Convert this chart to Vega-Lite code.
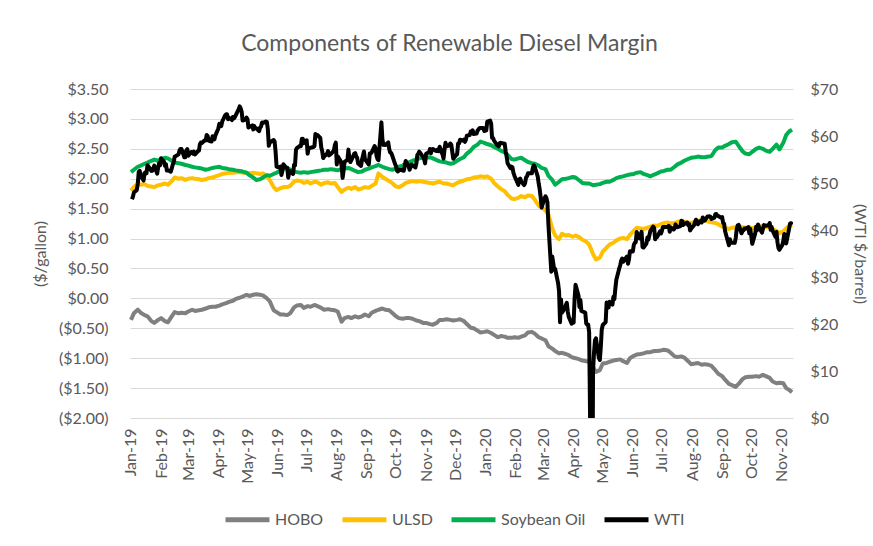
{
  "$schema": "https://vega.github.io/schema/vega-lite/v6.json",
  "width": 663,
  "height": 329,
  "autosize": "none",
  "padding": {"left": 130, "top": 89, "right": 80, "bottom": 128},
  "background": "white",
  "title": {"text": "Components of Renewable Diesel Margin", "baseline": "alphabetic", "offset": 7, "dx": -12},
  "config": {
    "view": {"stroke": null},
    "font": "Lato",
    "title": {"font": "Lato", "fontSize": 23, "fontWeight": "normal", "color": "#595959", "anchor": "middle"},
    "axis": {"labelFont": "Lato", "titleFont": "Lato", "labelColor": "#595959", "titleColor": "#595959", "labelFontSize": 16, "titleFontSize": 16, "titleFontWeight": "normal"}
  },
  "datasets": {
    "left": [
      {"d":"2019-01-01","HOBO":-0.36,"ULSD":1.80,"Soybean Oil":2.11},
      {"d":"2019-01-04","HOBO":-0.25,"ULSD":1.86,"Soybean Oil":2.15},
      {"d":"2019-01-08","HOBO":-0.19,"ULSD":1.92,"Soybean Oil":2.20},
      {"d":"2019-01-11","HOBO":-0.24,"ULSD":1.90,"Soybean Oil":2.22},
      {"d":"2019-01-15","HOBO":-0.28,"ULSD":1.91,"Soybean Oil":2.25},
      {"d":"2019-01-18","HOBO":-0.30,"ULSD":1.88,"Soybean Oil":2.27},
      {"d":"2019-01-22","HOBO":-0.38,"ULSD":1.87,"Soybean Oil":2.30},
      {"d":"2019-01-25","HOBO":-0.41,"ULSD":1.86,"Soybean Oil":2.32},
      {"d":"2019-01-29","HOBO":-0.36,"ULSD":1.89,"Soybean Oil":2.30},
      {"d":"2019-02-01","HOBO":-0.33,"ULSD":1.90,"Soybean Oil":2.33},
      {"d":"2019-02-05","HOBO":-0.38,"ULSD":1.92,"Soybean Oil":2.35},
      {"d":"2019-02-08","HOBO":-0.40,"ULSD":1.90,"Soybean Oil":2.34},
      {"d":"2019-02-12","HOBO":-0.30,"ULSD":1.96,"Soybean Oil":2.30},
      {"d":"2019-02-15","HOBO":-0.23,"ULSD":2.02,"Soybean Oil":2.27},
      {"d":"2019-02-19","HOBO":-0.25,"ULSD":2.00,"Soybean Oil":2.26},
      {"d":"2019-02-22","HOBO":-0.24,"ULSD":2.01,"Soybean Oil":2.25},
      {"d":"2019-02-26","HOBO":-0.25,"ULSD":1.98,"Soybean Oil":2.23},
      {"d":"2019-03-01","HOBO":-0.22,"ULSD":2.00,"Soybean Oil":2.22},
      {"d":"2019-03-05","HOBO":-0.19,"ULSD":2.01,"Soybean Oil":2.20},
      {"d":"2019-03-08","HOBO":-0.21,"ULSD":2.00,"Soybean Oil":2.19},
      {"d":"2019-03-12","HOBO":-0.20,"ULSD":1.99,"Soybean Oil":2.18},
      {"d":"2019-03-15","HOBO":-0.19,"ULSD":1.98,"Soybean Oil":2.17},
      {"d":"2019-03-19","HOBO":-0.17,"ULSD":1.99,"Soybean Oil":2.15},
      {"d":"2019-03-22","HOBO":-0.15,"ULSD":2.01,"Soybean Oil":2.16},
      {"d":"2019-03-26","HOBO":-0.14,"ULSD":2.02,"Soybean Oil":2.18},
      {"d":"2019-03-29","HOBO":-0.14,"ULSD":2.04,"Soybean Oil":2.19},
      {"d":"2019-04-02","HOBO":-0.12,"ULSD":2.06,"Soybean Oil":2.20},
      {"d":"2019-04-05","HOBO":-0.10,"ULSD":2.08,"Soybean Oil":2.18},
      {"d":"2019-04-09","HOBO":-0.08,"ULSD":2.09,"Soybean Oil":2.17},
      {"d":"2019-04-12","HOBO":-0.06,"ULSD":2.10,"Soybean Oil":2.16},
      {"d":"2019-04-16","HOBO":-0.04,"ULSD":2.10,"Soybean Oil":2.15},
      {"d":"2019-04-19","HOBO":-0.01,"ULSD":2.11,"Soybean Oil":2.14},
      {"d":"2019-04-23","HOBO":0.01,"ULSD":2.11,"Soybean Oil":2.13},
      {"d":"2019-04-26","HOBO":0.03,"ULSD":2.10,"Soybean Oil":2.12},
      {"d":"2019-04-30","HOBO":0.06,"ULSD":2.10,"Soybean Oil":2.10},
      {"d":"2019-05-03","HOBO":0.04,"ULSD":2.09,"Soybean Oil":2.06},
      {"d":"2019-05-07","HOBO":0.06,"ULSD":2.10,"Soybean Oil":2.02},
      {"d":"2019-05-10","HOBO":0.07,"ULSD":2.09,"Soybean Oil":1.98},
      {"d":"2019-05-14","HOBO":0.06,"ULSD":2.08,"Soybean Oil":1.99},
      {"d":"2019-05-17","HOBO":0.05,"ULSD":2.09,"Soybean Oil":2.02},
      {"d":"2019-05-21","HOBO":0.00,"ULSD":2.04,"Soybean Oil":2.06},
      {"d":"2019-05-24","HOBO":-0.05,"ULSD":1.98,"Soybean Oil":2.05},
      {"d":"2019-05-28","HOBO":-0.20,"ULSD":1.86,"Soybean Oil":2.08},
      {"d":"2019-05-31","HOBO":-0.23,"ULSD":1.81,"Soybean Oil":2.10},
      {"d":"2019-06-04","HOBO":-0.27,"ULSD":1.84,"Soybean Oil":2.14},
      {"d":"2019-06-07","HOBO":-0.27,"ULSD":1.86,"Soybean Oil":2.16},
      {"d":"2019-06-11","HOBO":-0.28,"ULSD":1.86,"Soybean Oil":2.18},
      {"d":"2019-06-14","HOBO":-0.25,"ULSD":1.88,"Soybean Oil":2.15},
      {"d":"2019-06-18","HOBO":-0.15,"ULSD":1.95,"Soybean Oil":2.12},
      {"d":"2019-06-21","HOBO":-0.12,"ULSD":1.97,"Soybean Oil":2.11},
      {"d":"2019-06-25","HOBO":-0.11,"ULSD":1.96,"Soybean Oil":2.10},
      {"d":"2019-06-28","HOBO":-0.16,"ULSD":1.93,"Soybean Oil":2.11},
      {"d":"2019-07-02","HOBO":-0.13,"ULSD":1.95,"Soybean Oil":2.10},
      {"d":"2019-07-05","HOBO":-0.14,"ULSD":1.92,"Soybean Oil":2.11},
      {"d":"2019-07-09","HOBO":-0.11,"ULSD":1.95,"Soybean Oil":2.12},
      {"d":"2019-07-12","HOBO":-0.13,"ULSD":1.94,"Soybean Oil":2.13},
      {"d":"2019-07-16","HOBO":-0.16,"ULSD":1.90,"Soybean Oil":2.14},
      {"d":"2019-07-19","HOBO":-0.19,"ULSD":1.93,"Soybean Oil":2.15},
      {"d":"2019-07-23","HOBO":-0.18,"ULSD":1.94,"Soybean Oil":2.15},
      {"d":"2019-07-26","HOBO":-0.19,"ULSD":1.92,"Soybean Oil":2.16},
      {"d":"2019-07-30","HOBO":-0.20,"ULSD":1.93,"Soybean Oil":2.15},
      {"d":"2019-08-02","HOBO":-0.22,"ULSD":1.86,"Soybean Oil":2.14},
      {"d":"2019-08-06","HOBO":-0.39,"ULSD":1.78,"Soybean Oil":2.16},
      {"d":"2019-08-09","HOBO":-0.33,"ULSD":1.82,"Soybean Oil":2.17},
      {"d":"2019-08-13","HOBO":-0.31,"ULSD":1.85,"Soybean Oil":2.18},
      {"d":"2019-08-16","HOBO":-0.33,"ULSD":1.83,"Soybean Oil":2.16},
      {"d":"2019-08-20","HOBO":-0.30,"ULSD":1.86,"Soybean Oil":2.13},
      {"d":"2019-08-23","HOBO":-0.32,"ULSD":1.82,"Soybean Oil":2.11},
      {"d":"2019-08-27","HOBO":-0.30,"ULSD":1.84,"Soybean Oil":2.12},
      {"d":"2019-08-30","HOBO":-0.27,"ULSD":1.86,"Soybean Oil":2.15},
      {"d":"2019-09-03","HOBO":-0.30,"ULSD":1.85,"Soybean Oil":2.17},
      {"d":"2019-09-06","HOBO":-0.24,"ULSD":1.88,"Soybean Oil":2.19},
      {"d":"2019-09-10","HOBO":-0.21,"ULSD":1.92,"Soybean Oil":2.21},
      {"d":"2019-09-13","HOBO":-0.19,"ULSD":2.09,"Soybean Oil":2.23},
      {"d":"2019-09-17","HOBO":-0.17,"ULSD":2.03,"Soybean Oil":2.20},
      {"d":"2019-09-20","HOBO":-0.19,"ULSD":2.00,"Soybean Oil":2.18},
      {"d":"2019-09-24","HOBO":-0.20,"ULSD":1.96,"Soybean Oil":2.16},
      {"d":"2019-09-27","HOBO":-0.24,"ULSD":1.93,"Soybean Oil":2.15},
      {"d":"2019-10-01","HOBO":-0.30,"ULSD":1.87,"Soybean Oil":2.17},
      {"d":"2019-10-04","HOBO":-0.33,"ULSD":1.86,"Soybean Oil":2.20},
      {"d":"2019-10-08","HOBO":-0.34,"ULSD":1.89,"Soybean Oil":2.22},
      {"d":"2019-10-11","HOBO":-0.33,"ULSD":1.93,"Soybean Oil":2.25},
      {"d":"2019-10-15","HOBO":-0.33,"ULSD":1.95,"Soybean Oil":2.28},
      {"d":"2019-10-18","HOBO":-0.34,"ULSD":1.96,"Soybean Oil":2.30},
      {"d":"2019-10-22","HOBO":-0.37,"ULSD":1.95,"Soybean Oil":2.32},
      {"d":"2019-10-25","HOBO":-0.38,"ULSD":1.96,"Soybean Oil":2.34},
      {"d":"2019-10-29","HOBO":-0.41,"ULSD":1.95,"Soybean Oil":2.35},
      {"d":"2019-11-01","HOBO":-0.41,"ULSD":1.94,"Soybean Oil":2.35},
      {"d":"2019-11-05","HOBO":-0.43,"ULSD":1.93,"Soybean Oil":2.36},
      {"d":"2019-11-08","HOBO":-0.44,"ULSD":1.92,"Soybean Oil":2.34},
      {"d":"2019-11-12","HOBO":-0.41,"ULSD":1.94,"Soybean Oil":2.31},
      {"d":"2019-11-15","HOBO":-0.36,"ULSD":1.95,"Soybean Oil":2.29},
      {"d":"2019-11-19","HOBO":-0.36,"ULSD":1.92,"Soybean Oil":2.28},
      {"d":"2019-11-22","HOBO":-0.35,"ULSD":1.92,"Soybean Oil":2.27},
      {"d":"2019-11-26","HOBO":-0.36,"ULSD":1.90,"Soybean Oil":2.25},
      {"d":"2019-11-29","HOBO":-0.37,"ULSD":1.89,"Soybean Oil":2.26},
      {"d":"2019-12-03","HOBO":-0.36,"ULSD":1.93,"Soybean Oil":2.30},
      {"d":"2019-12-06","HOBO":-0.35,"ULSD":1.95,"Soybean Oil":2.33},
      {"d":"2019-12-10","HOBO":-0.38,"ULSD":1.97,"Soybean Oil":2.36},
      {"d":"2019-12-13","HOBO":-0.43,"ULSD":1.99,"Soybean Oil":2.42},
      {"d":"2019-12-17","HOBO":-0.49,"ULSD":2.00,"Soybean Oil":2.47},
      {"d":"2019-12-20","HOBO":-0.50,"ULSD":2.02,"Soybean Oil":2.53},
      {"d":"2019-12-24","HOBO":-0.54,"ULSD":2.03,"Soybean Oil":2.57},
      {"d":"2019-12-27","HOBO":-0.57,"ULSD":2.04,"Soybean Oil":2.62},
      {"d":"2019-12-31","HOBO":-0.56,"ULSD":2.03,"Soybean Oil":2.60},
      {"d":"2020-01-03","HOBO":-0.55,"ULSD":2.04,"Soybean Oil":2.58},
      {"d":"2020-01-07","HOBO":-0.58,"ULSD":2.00,"Soybean Oil":2.56},
      {"d":"2020-01-10","HOBO":-0.61,"ULSD":1.93,"Soybean Oil":2.53},
      {"d":"2020-01-14","HOBO":-0.65,"ULSD":1.87,"Soybean Oil":2.50},
      {"d":"2020-01-17","HOBO":-0.63,"ULSD":1.83,"Soybean Oil":2.47},
      {"d":"2020-01-21","HOBO":-0.64,"ULSD":1.79,"Soybean Oil":2.44},
      {"d":"2020-01-24","HOBO":-0.66,"ULSD":1.73,"Soybean Oil":2.40},
      {"d":"2020-01-28","HOBO":-0.66,"ULSD":1.67,"Soybean Oil":2.33},
      {"d":"2020-01-31","HOBO":-0.65,"ULSD":1.66,"Soybean Oil":2.32},
      {"d":"2020-02-04","HOBO":-0.66,"ULSD":1.68,"Soybean Oil":2.34},
      {"d":"2020-02-07","HOBO":-0.64,"ULSD":1.71,"Soybean Oil":2.35},
      {"d":"2020-02-11","HOBO":-0.62,"ULSD":1.69,"Soybean Oil":2.31},
      {"d":"2020-02-14","HOBO":-0.57,"ULSD":1.72,"Soybean Oil":2.28},
      {"d":"2020-02-18","HOBO":-0.56,"ULSD":1.71,"Soybean Oil":2.26},
      {"d":"2020-02-21","HOBO":-0.59,"ULSD":1.65,"Soybean Oil":2.25},
      {"d":"2020-02-25","HOBO":-0.65,"ULSD":1.55,"Soybean Oil":2.22},
      {"d":"2020-02-28","HOBO":-0.67,"ULSD":1.52,"Soybean Oil":2.18},
      {"d":"2020-03-03","HOBO":-0.70,"ULSD":1.47,"Soybean Oil":2.16},
      {"d":"2020-03-06","HOBO":-0.80,"ULSD":1.40,"Soybean Oil":2.05},
      {"d":"2020-03-10","HOBO":-0.84,"ULSD":1.17,"Soybean Oil":1.98},
      {"d":"2020-03-13","HOBO":-0.88,"ULSD":1.05,"Soybean Oil":1.90},
      {"d":"2020-03-17","HOBO":-0.92,"ULSD":0.99,"Soybean Oil":1.95},
      {"d":"2020-03-20","HOBO":-0.91,"ULSD":1.08,"Soybean Oil":1.99},
      {"d":"2020-03-24","HOBO":-0.93,"ULSD":1.05,"Soybean Oil":2.00},
      {"d":"2020-03-27","HOBO":-0.95,"ULSD":1.06,"Soybean Oil":2.01},
      {"d":"2020-03-31","HOBO":-0.99,"ULSD":1.03,"Soybean Oil":2.03},
      {"d":"2020-04-03","HOBO":-1.00,"ULSD":1.05,"Soybean Oil":2.02},
      {"d":"2020-04-07","HOBO":-1.02,"ULSD":1.02,"Soybean Oil":1.97},
      {"d":"2020-04-10","HOBO":-1.04,"ULSD":0.98,"Soybean Oil":1.93},
      {"d":"2020-04-14","HOBO":-1.05,"ULSD":0.95,"Soybean Oil":1.92},
      {"d":"2020-04-17","HOBO":-1.06,"ULSD":0.90,"Soybean Oil":1.92},
      {"d":"2020-04-21","HOBO":-1.15,"ULSD":0.74,"Soybean Oil":1.89},
      {"d":"2020-04-24","HOBO":-1.23,"ULSD":0.65,"Soybean Oil":1.90},
      {"d":"2020-04-28","HOBO":-1.20,"ULSD":0.68,"Soybean Oil":1.91},
      {"d":"2020-05-01","HOBO":-1.09,"ULSD":0.78,"Soybean Oil":1.93},
      {"d":"2020-05-05","HOBO":-1.08,"ULSD":0.85,"Soybean Oil":1.95},
      {"d":"2020-05-08","HOBO":-1.06,"ULSD":0.90,"Soybean Oil":1.95},
      {"d":"2020-05-12","HOBO":-1.04,"ULSD":0.93,"Soybean Oil":1.98},
      {"d":"2020-05-15","HOBO":-1.03,"ULSD":0.97,"Soybean Oil":2.01},
      {"d":"2020-05-19","HOBO":-1.02,"ULSD":1.00,"Soybean Oil":2.03},
      {"d":"2020-05-22","HOBO":-1.05,"ULSD":1.01,"Soybean Oil":2.04},
      {"d":"2020-05-26","HOBO":-1.08,"ULSD":0.99,"Soybean Oil":2.06},
      {"d":"2020-05-29","HOBO":-1.00,"ULSD":1.06,"Soybean Oil":2.07},
      {"d":"2020-06-02","HOBO":-0.96,"ULSD":1.13,"Soybean Oil":2.08},
      {"d":"2020-06-05","HOBO":-0.94,"ULSD":1.18,"Soybean Oil":2.10},
      {"d":"2020-06-09","HOBO":-0.93,"ULSD":1.17,"Soybean Oil":2.11},
      {"d":"2020-06-12","HOBO":-0.92,"ULSD":1.16,"Soybean Oil":2.08},
      {"d":"2020-06-16","HOBO":-0.90,"ULSD":1.18,"Soybean Oil":2.06},
      {"d":"2020-06-19","HOBO":-0.90,"ULSD":1.20,"Soybean Oil":2.04},
      {"d":"2020-06-23","HOBO":-0.88,"ULSD":1.22,"Soybean Oil":2.07},
      {"d":"2020-06-26","HOBO":-0.88,"ULSD":1.21,"Soybean Oil":2.09},
      {"d":"2020-06-30","HOBO":-0.87,"ULSD":1.24,"Soybean Oil":2.12},
      {"d":"2020-07-03","HOBO":-0.86,"ULSD":1.26,"Soybean Oil":2.13},
      {"d":"2020-07-07","HOBO":-0.87,"ULSD":1.27,"Soybean Oil":2.15},
      {"d":"2020-07-10","HOBO":-0.91,"ULSD":1.25,"Soybean Oil":2.15},
      {"d":"2020-07-14","HOBO":-0.97,"ULSD":1.26,"Soybean Oil":2.20},
      {"d":"2020-07-17","HOBO":-0.98,"ULSD":1.28,"Soybean Oil":2.24},
      {"d":"2020-07-21","HOBO":-0.97,"ULSD":1.29,"Soybean Oil":2.27},
      {"d":"2020-07-24","HOBO":-0.99,"ULSD":1.28,"Soybean Oil":2.30},
      {"d":"2020-07-28","HOBO":-1.05,"ULSD":1.27,"Soybean Oil":2.33},
      {"d":"2020-07-31","HOBO":-1.10,"ULSD":1.26,"Soybean Oil":2.35},
      {"d":"2020-08-04","HOBO":-1.09,"ULSD":1.28,"Soybean Oil":2.36},
      {"d":"2020-08-07","HOBO":-1.08,"ULSD":1.30,"Soybean Oil":2.37},
      {"d":"2020-08-11","HOBO":-1.11,"ULSD":1.30,"Soybean Oil":2.36},
      {"d":"2020-08-14","HOBO":-1.10,"ULSD":1.31,"Soybean Oil":2.36},
      {"d":"2020-08-18","HOBO":-1.11,"ULSD":1.28,"Soybean Oil":2.37},
      {"d":"2020-08-21","HOBO":-1.13,"ULSD":1.27,"Soybean Oil":2.38},
      {"d":"2020-08-25","HOBO":-1.20,"ULSD":1.26,"Soybean Oil":2.48},
      {"d":"2020-08-28","HOBO":-1.26,"ULSD":1.24,"Soybean Oil":2.52},
      {"d":"2020-09-01","HOBO":-1.30,"ULSD":1.20,"Soybean Oil":2.52},
      {"d":"2020-09-04","HOBO":-1.36,"ULSD":1.18,"Soybean Oil":2.55},
      {"d":"2020-09-08","HOBO":-1.43,"ULSD":1.16,"Soybean Oil":2.58},
      {"d":"2020-09-11","HOBO":-1.45,"ULSD":1.18,"Soybean Oil":2.61},
      {"d":"2020-09-15","HOBO":-1.48,"ULSD":1.19,"Soybean Oil":2.62},
      {"d":"2020-09-18","HOBO":-1.43,"ULSD":1.20,"Soybean Oil":2.55},
      {"d":"2020-09-22","HOBO":-1.35,"ULSD":1.19,"Soybean Oil":2.46},
      {"d":"2020-09-25","HOBO":-1.32,"ULSD":1.18,"Soybean Oil":2.42},
      {"d":"2020-09-29","HOBO":-1.31,"ULSD":1.19,"Soybean Oil":2.41},
      {"d":"2020-10-02","HOBO":-1.31,"ULSD":1.17,"Soybean Oil":2.45},
      {"d":"2020-10-06","HOBO":-1.30,"ULSD":1.19,"Soybean Oil":2.50},
      {"d":"2020-10-09","HOBO":-1.31,"ULSD":1.20,"Soybean Oil":2.52},
      {"d":"2020-10-13","HOBO":-1.28,"ULSD":1.21,"Soybean Oil":2.50},
      {"d":"2020-10-16","HOBO":-1.30,"ULSD":1.19,"Soybean Oil":2.47},
      {"d":"2020-10-20","HOBO":-1.33,"ULSD":1.19,"Soybean Oil":2.45},
      {"d":"2020-10-23","HOBO":-1.39,"ULSD":1.16,"Soybean Oil":2.50},
      {"d":"2020-10-27","HOBO":-1.42,"ULSD":1.13,"Soybean Oil":2.57},
      {"d":"2020-10-30","HOBO":-1.41,"ULSD":1.09,"Soybean Oil":2.49},
      {"d":"2020-11-03","HOBO":-1.42,"ULSD":1.12,"Soybean Oil":2.60},
      {"d":"2020-11-06","HOBO":-1.50,"ULSD":1.17,"Soybean Oil":2.73},
      {"d":"2020-11-09","HOBO":-1.53,"ULSD":1.21,"Soybean Oil":2.79},
      {"d":"2020-11-12","HOBO":-1.57,"ULSD":1.23,"Soybean Oil":2.82}
    ],
    "wti": [
      {"d":"2019-01-02","v":46.54},{"d":"2019-01-03","v":47.09},{"d":"2019-01-04","v":47.96},{"d":"2019-01-07","v":48.52},{"d":"2019-01-08","v":49.78},{"d":"2019-01-09","v":52.36},{"d":"2019-01-10","v":52.59},{"d":"2019-01-11","v":51.59},{"d":"2019-01-14","v":50.51},{"d":"2019-01-15","v":52.11},{"d":"2019-01-16","v":52.31},{"d":"2019-01-17","v":52.07},{"d":"2019-01-18","v":53.80},{"d":"2019-01-22","v":52.57},{"d":"2019-01-23","v":52.62},{"d":"2019-01-24","v":53.13},{"d":"2019-01-25","v":53.69},{"d":"2019-01-28","v":51.99},{"d":"2019-01-29","v":53.31},{"d":"2019-01-30","v":54.23},{"d":"2019-01-31","v":53.79},
      {"d":"2019-02-01","v":55.26},{"d":"2019-02-04","v":54.56},{"d":"2019-02-05","v":53.66},{"d":"2019-02-06","v":54.01},{"d":"2019-02-07","v":52.64},{"d":"2019-02-08","v":52.72},{"d":"2019-02-11","v":52.41},{"d":"2019-02-12","v":53.10},{"d":"2019-02-13","v":53.90},{"d":"2019-02-14","v":54.41},{"d":"2019-02-15","v":55.59},{"d":"2019-02-19","v":56.09},{"d":"2019-02-20","v":56.92},{"d":"2019-02-21","v":57.26},{"d":"2019-02-22","v":57.26},{"d":"2019-02-25","v":55.48},{"d":"2019-02-26","v":55.50},{"d":"2019-02-27","v":56.94},{"d":"2019-02-28","v":57.22},
      {"d":"2019-03-01","v":55.80},{"d":"2019-03-04","v":56.59},{"d":"2019-03-05","v":56.56},{"d":"2019-03-06","v":56.22},{"d":"2019-03-07","v":56.66},{"d":"2019-03-08","v":56.07},{"d":"2019-03-11","v":56.79},{"d":"2019-03-12","v":56.87},{"d":"2019-03-13","v":58.26},{"d":"2019-03-14","v":58.61},{"d":"2019-03-15","v":58.52},{"d":"2019-03-18","v":59.09},{"d":"2019-03-19","v":59.03},{"d":"2019-03-20","v":60.23},{"d":"2019-03-21","v":59.98},{"d":"2019-03-22","v":59.04},{"d":"2019-03-25","v":58.82},{"d":"2019-03-26","v":59.94},{"d":"2019-03-27","v":59.41},{"d":"2019-03-28","v":59.30},{"d":"2019-03-29","v":60.14},
      {"d":"2019-04-01","v":61.59},{"d":"2019-04-02","v":62.58},{"d":"2019-04-03","v":62.46},{"d":"2019-04-04","v":62.10},{"d":"2019-04-05","v":63.08},{"d":"2019-04-08","v":64.40},{"d":"2019-04-09","v":64.61},{"d":"2019-04-10","v":64.61},{"d":"2019-04-11","v":63.58},{"d":"2019-04-12","v":63.89},{"d":"2019-04-15","v":63.40},{"d":"2019-04-16","v":64.05},{"d":"2019-04-17","v":63.76},{"d":"2019-04-18","v":64.00},{"d":"2019-04-22","v":65.70},{"d":"2019-04-23","v":66.30},{"d":"2019-04-24","v":65.89},{"d":"2019-04-25","v":65.21},{"d":"2019-04-26","v":63.30},{"d":"2019-04-29","v":63.50},{"d":"2019-04-30","v":63.91},
      {"d":"2019-05-01","v":63.60},{"d":"2019-05-02","v":61.81},{"d":"2019-05-03","v":61.94},{"d":"2019-05-06","v":62.25},{"d":"2019-05-07","v":61.40},{"d":"2019-05-08","v":62.12},{"d":"2019-05-09","v":61.70},{"d":"2019-05-10","v":61.66},{"d":"2019-05-13","v":61.04},{"d":"2019-05-14","v":61.78},{"d":"2019-05-15","v":62.02},{"d":"2019-05-16","v":62.87},{"d":"2019-05-17","v":62.76},{"d":"2019-05-20","v":63.10},{"d":"2019-05-21","v":62.99},{"d":"2019-05-22","v":61.42},{"d":"2019-05-23","v":57.91},{"d":"2019-05-24","v":58.63},{"d":"2019-05-28","v":59.14},{"d":"2019-05-29","v":58.81},{"d":"2019-05-30","v":56.59},{"d":"2019-05-31","v":53.50},
      {"d":"2019-06-03","v":53.25},{"d":"2019-06-04","v":53.48},{"d":"2019-06-05","v":51.68},{"d":"2019-06-06","v":52.59},{"d":"2019-06-07","v":53.99},{"d":"2019-06-10","v":53.26},{"d":"2019-06-11","v":53.27},{"d":"2019-06-12","v":51.14},{"d":"2019-06-13","v":52.28},{"d":"2019-06-14","v":52.51},{"d":"2019-06-17","v":51.93},{"d":"2019-06-18","v":53.90},{"d":"2019-06-19","v":53.76},{"d":"2019-06-20","v":57.07},{"d":"2019-06-21","v":57.43},{"d":"2019-06-24","v":57.90},{"d":"2019-06-25","v":57.83},{"d":"2019-06-26","v":59.38},{"d":"2019-06-27","v":59.43},{"d":"2019-06-28","v":58.47},
      {"d":"2019-07-01","v":59.09},{"d":"2019-07-02","v":56.25},{"d":"2019-07-03","v":57.34},{"d":"2019-07-05","v":57.51},{"d":"2019-07-08","v":57.66},{"d":"2019-07-09","v":57.83},{"d":"2019-07-10","v":60.43},{"d":"2019-07-11","v":60.20},{"d":"2019-07-12","v":60.21},{"d":"2019-07-15","v":59.58},{"d":"2019-07-16","v":57.62},{"d":"2019-07-17","v":56.78},{"d":"2019-07-18","v":55.30},{"d":"2019-07-19","v":55.63},{"d":"2019-07-22","v":56.22},{"d":"2019-07-23","v":56.77},{"d":"2019-07-24","v":55.88},{"d":"2019-07-25","v":56.02},{"d":"2019-07-26","v":56.20},{"d":"2019-07-29","v":56.87},{"d":"2019-07-30","v":58.05},{"d":"2019-07-31","v":58.58},
      {"d":"2019-08-01","v":53.95},{"d":"2019-08-02","v":55.66},{"d":"2019-08-05","v":54.69},{"d":"2019-08-06","v":53.63},{"d":"2019-08-07","v":51.09},{"d":"2019-08-08","v":52.54},{"d":"2019-08-09","v":54.50},{"d":"2019-08-12","v":54.93},{"d":"2019-08-13","v":57.10},{"d":"2019-08-14","v":55.23},{"d":"2019-08-15","v":54.47},{"d":"2019-08-16","v":54.87},{"d":"2019-08-19","v":56.21},{"d":"2019-08-20","v":56.34},{"d":"2019-08-21","v":55.68},{"d":"2019-08-22","v":55.35},{"d":"2019-08-23","v":54.17},{"d":"2019-08-26","v":53.64},{"d":"2019-08-27","v":54.93},{"d":"2019-08-28","v":55.78},{"d":"2019-08-29","v":56.71},{"d":"2019-08-30","v":55.10},
      {"d":"2019-09-03","v":53.94},{"d":"2019-09-04","v":56.26},{"d":"2019-09-05","v":56.30},{"d":"2019-09-06","v":56.52},{"d":"2019-09-09","v":57.85},{"d":"2019-09-10","v":57.40},{"d":"2019-09-11","v":55.75},{"d":"2019-09-12","v":55.09},{"d":"2019-09-13","v":54.85},{"d":"2019-09-16","v":62.90},{"d":"2019-09-17","v":59.34},{"d":"2019-09-18","v":58.11},{"d":"2019-09-19","v":58.13},{"d":"2019-09-20","v":58.09},{"d":"2019-09-23","v":58.64},{"d":"2019-09-24","v":57.29},{"d":"2019-09-25","v":56.49},{"d":"2019-09-26","v":56.41},{"d":"2019-09-27","v":55.91},{"d":"2019-09-30","v":54.07},
      {"d":"2019-10-01","v":53.62},{"d":"2019-10-02","v":52.64},{"d":"2019-10-03","v":52.45},{"d":"2019-10-04","v":52.81},{"d":"2019-10-07","v":52.75},{"d":"2019-10-08","v":52.63},{"d":"2019-10-09","v":52.59},{"d":"2019-10-10","v":53.55},{"d":"2019-10-11","v":54.70},{"d":"2019-10-14","v":53.59},{"d":"2019-10-15","v":52.81},{"d":"2019-10-16","v":53.36},{"d":"2019-10-17","v":53.93},{"d":"2019-10-18","v":53.78},{"d":"2019-10-21","v":53.31},{"d":"2019-10-22","v":54.16},{"d":"2019-10-23","v":55.97},{"d":"2019-10-24","v":56.23},{"d":"2019-10-25","v":56.66},{"d":"2019-10-28","v":55.81},{"d":"2019-10-29","v":55.54},{"d":"2019-10-30","v":55.06},{"d":"2019-10-31","v":54.18},
      {"d":"2019-11-01","v":56.20},{"d":"2019-11-04","v":56.54},{"d":"2019-11-05","v":57.23},{"d":"2019-11-06","v":56.35},{"d":"2019-11-07","v":57.15},{"d":"2019-11-08","v":57.24},{"d":"2019-11-11","v":56.86},{"d":"2019-11-12","v":56.80},{"d":"2019-11-13","v":57.12},{"d":"2019-11-14","v":56.77},{"d":"2019-11-15","v":57.72},{"d":"2019-11-18","v":56.05},{"d":"2019-11-19","v":55.21},{"d":"2019-11-20","v":57.11},{"d":"2019-11-21","v":58.58},{"d":"2019-11-22","v":57.77},{"d":"2019-11-25","v":58.01},{"d":"2019-11-26","v":58.41},{"d":"2019-11-27","v":58.11},{"d":"2019-11-29","v":55.17},
      {"d":"2019-12-02","v":55.96},{"d":"2019-12-03","v":56.10},{"d":"2019-12-04","v":58.43},{"d":"2019-12-05","v":58.43},{"d":"2019-12-06","v":59.20},{"d":"2019-12-09","v":59.02},{"d":"2019-12-10","v":59.24},{"d":"2019-12-11","v":58.76},{"d":"2019-12-12","v":59.18},{"d":"2019-12-13","v":60.07},{"d":"2019-12-16","v":60.21},{"d":"2019-12-17","v":60.94},{"d":"2019-12-18","v":60.93},{"d":"2019-12-19","v":61.22},{"d":"2019-12-20","v":60.44},{"d":"2019-12-23","v":60.52},{"d":"2019-12-24","v":61.11},{"d":"2019-12-26","v":61.68},{"d":"2019-12-27","v":61.72},{"d":"2019-12-30","v":61.68},{"d":"2019-12-31","v":61.06},
      {"d":"2020-01-02","v":61.18},{"d":"2020-01-03","v":63.05},{"d":"2020-01-06","v":63.27},{"d":"2020-01-07","v":62.70},{"d":"2020-01-08","v":59.61},{"d":"2020-01-09","v":59.56},{"d":"2020-01-10","v":59.04},{"d":"2020-01-13","v":58.08},{"d":"2020-01-14","v":58.23},{"d":"2020-01-15","v":57.81},{"d":"2020-01-16","v":58.52},{"d":"2020-01-17","v":58.54},{"d":"2020-01-21","v":58.34},{"d":"2020-01-22","v":56.74},{"d":"2020-01-23","v":55.59},{"d":"2020-01-24","v":54.19},{"d":"2020-01-27","v":53.14},{"d":"2020-01-28","v":53.48},{"d":"2020-01-29","v":53.33},{"d":"2020-01-30","v":52.14},{"d":"2020-01-31","v":51.56},
      {"d":"2020-02-03","v":50.11},{"d":"2020-02-04","v":49.61},{"d":"2020-02-05","v":50.75},{"d":"2020-02-06","v":50.95},{"d":"2020-02-07","v":50.32},{"d":"2020-02-10","v":49.57},{"d":"2020-02-11","v":49.94},{"d":"2020-02-12","v":51.17},{"d":"2020-02-13","v":51.42},{"d":"2020-02-14","v":52.05},{"d":"2020-02-18","v":52.05},{"d":"2020-02-19","v":53.29},{"d":"2020-02-20","v":53.78},{"d":"2020-02-21","v":53.38},{"d":"2020-02-24","v":51.43},{"d":"2020-02-25","v":49.90},{"d":"2020-02-26","v":48.73},{"d":"2020-02-27","v":47.09},{"d":"2020-02-28","v":44.76},
      {"d":"2020-03-02","v":46.75},{"d":"2020-03-03","v":47.18},{"d":"2020-03-04","v":46.78},{"d":"2020-03-05","v":45.90},{"d":"2020-03-06","v":41.28},{"d":"2020-03-09","v":31.13},{"d":"2020-03-10","v":34.36},{"d":"2020-03-11","v":32.98},{"d":"2020-03-12","v":31.50},{"d":"2020-03-13","v":31.73},{"d":"2020-03-16","v":28.70},{"d":"2020-03-17","v":26.95},{"d":"2020-03-18","v":20.37},{"d":"2020-03-19","v":25.22},{"d":"2020-03-20","v":22.43},{"d":"2020-03-23","v":23.36},{"d":"2020-03-24","v":24.01},{"d":"2020-03-25","v":24.49},{"d":"2020-03-26","v":22.60},{"d":"2020-03-27","v":21.51},{"d":"2020-03-30","v":20.09},{"d":"2020-03-31","v":20.48},
      {"d":"2020-04-01","v":20.31},{"d":"2020-04-02","v":25.32},{"d":"2020-04-03","v":28.34},{"d":"2020-04-06","v":26.08},{"d":"2020-04-07","v":23.63},{"d":"2020-04-08","v":25.09},{"d":"2020-04-09","v":22.76},{"d":"2020-04-13","v":22.41},{"d":"2020-04-14","v":20.11},{"d":"2020-04-15","v":19.87},{"d":"2020-04-16","v":19.87},{"d":"2020-04-17","v":18.27},{"d":"2020-04-20","v":-37.63},{"d":"2020-04-21","v":10.01},{"d":"2020-04-22","v":13.78},{"d":"2020-04-23","v":16.50},{"d":"2020-04-24","v":16.94},{"d":"2020-04-27","v":12.78},{"d":"2020-04-28","v":12.34},{"d":"2020-04-29","v":15.06},{"d":"2020-04-30","v":18.84},
      {"d":"2020-05-01","v":19.78},{"d":"2020-05-04","v":20.39},{"d":"2020-05-05","v":24.56},{"d":"2020-05-06","v":23.99},{"d":"2020-05-07","v":23.55},{"d":"2020-05-08","v":24.74},{"d":"2020-05-11","v":24.14},{"d":"2020-05-12","v":25.78},{"d":"2020-05-13","v":25.29},{"d":"2020-05-14","v":27.56},{"d":"2020-05-15","v":29.43},{"d":"2020-05-18","v":31.82},{"d":"2020-05-19","v":32.50},{"d":"2020-05-20","v":33.49},{"d":"2020-05-21","v":33.92},{"d":"2020-05-22","v":33.25},{"d":"2020-05-26","v":34.35},{"d":"2020-05-27","v":32.81},{"d":"2020-05-28","v":33.71},{"d":"2020-05-29","v":35.49},
      {"d":"2020-06-01","v":35.44},{"d":"2020-06-02","v":36.81},{"d":"2020-06-03","v":37.29},{"d":"2020-06-04","v":37.41},{"d":"2020-06-05","v":39.55},{"d":"2020-06-08","v":38.19},{"d":"2020-06-09","v":38.94},{"d":"2020-06-10","v":39.60},{"d":"2020-06-11","v":36.34},{"d":"2020-06-12","v":36.26},{"d":"2020-06-15","v":37.12},{"d":"2020-06-16","v":38.38},{"d":"2020-06-17","v":37.96},{"d":"2020-06-18","v":38.84},{"d":"2020-06-19","v":39.75},{"d":"2020-06-22","v":40.73},{"d":"2020-06-23","v":40.37},{"d":"2020-06-24","v":38.01},{"d":"2020-06-25","v":38.72},{"d":"2020-06-26","v":38.49},{"d":"2020-06-29","v":39.70},{"d":"2020-06-30","v":39.27},
      {"d":"2020-07-01","v":39.82},{"d":"2020-07-02","v":40.65},{"d":"2020-07-06","v":40.63},{"d":"2020-07-07","v":40.62},{"d":"2020-07-08","v":40.90},{"d":"2020-07-09","v":39.62},{"d":"2020-07-10","v":40.55},{"d":"2020-07-13","v":40.10},{"d":"2020-07-14","v":40.29},{"d":"2020-07-15","v":41.20},{"d":"2020-07-16","v":40.75},{"d":"2020-07-17","v":40.59},{"d":"2020-07-20","v":40.81},{"d":"2020-07-21","v":41.96},{"d":"2020-07-22","v":41.90},{"d":"2020-07-23","v":41.07},{"d":"2020-07-24","v":41.29},{"d":"2020-07-27","v":41.60},{"d":"2020-07-28","v":41.04},{"d":"2020-07-29","v":41.27},{"d":"2020-07-30","v":39.92},{"d":"2020-07-31","v":40.27},
      {"d":"2020-08-03","v":41.01},{"d":"2020-08-04","v":41.70},{"d":"2020-08-05","v":42.19},{"d":"2020-08-06","v":41.95},{"d":"2020-08-07","v":41.22},{"d":"2020-08-10","v":41.94},{"d":"2020-08-11","v":41.61},{"d":"2020-08-12","v":42.67},{"d":"2020-08-13","v":42.24},{"d":"2020-08-14","v":42.01},{"d":"2020-08-17","v":42.89},{"d":"2020-08-18","v":42.89},{"d":"2020-08-19","v":42.93},{"d":"2020-08-20","v":42.82},{"d":"2020-08-21","v":42.34},{"d":"2020-08-24","v":42.62},{"d":"2020-08-25","v":43.35},{"d":"2020-08-26","v":43.39},{"d":"2020-08-27","v":43.04},{"d":"2020-08-28","v":42.97},{"d":"2020-08-31","v":42.61},
      {"d":"2020-09-01","v":42.76},{"d":"2020-09-02","v":41.51},{"d":"2020-09-03","v":41.37},{"d":"2020-09-04","v":39.77},{"d":"2020-09-08","v":36.76},{"d":"2020-09-09","v":38.05},{"d":"2020-09-10","v":37.30},{"d":"2020-09-11","v":37.33},{"d":"2020-09-14","v":37.26},{"d":"2020-09-15","v":38.28},{"d":"2020-09-16","v":40.16},{"d":"2020-09-17","v":40.97},{"d":"2020-09-18","v":41.11},{"d":"2020-09-21","v":39.31},{"d":"2020-09-22","v":39.80},{"d":"2020-09-23","v":39.93},{"d":"2020-09-24","v":40.31},{"d":"2020-09-25","v":40.25},{"d":"2020-09-28","v":40.60},{"d":"2020-09-29","v":39.29},{"d":"2020-09-30","v":40.22},
      {"d":"2020-10-01","v":38.72},{"d":"2020-10-02","v":37.05},{"d":"2020-10-05","v":39.22},{"d":"2020-10-06","v":40.67},{"d":"2020-10-07","v":39.95},{"d":"2020-10-08","v":41.19},{"d":"2020-10-09","v":40.60},{"d":"2020-10-12","v":39.43},{"d":"2020-10-13","v":40.20},{"d":"2020-10-14","v":41.04},{"d":"2020-10-15","v":40.96},{"d":"2020-10-16","v":40.88},{"d":"2020-10-19","v":41.06},{"d":"2020-10-20","v":41.46},{"d":"2020-10-21","v":40.03},{"d":"2020-10-22","v":40.64},{"d":"2020-10-23","v":39.85},{"d":"2020-10-26","v":38.56},{"d":"2020-10-27","v":39.57},{"d":"2020-10-28","v":37.39},{"d":"2020-10-29","v":36.17},{"d":"2020-10-30","v":35.79},
      {"d":"2020-11-02","v":36.81},{"d":"2020-11-03","v":37.66},{"d":"2020-11-04","v":39.15},{"d":"2020-11-05","v":38.79},{"d":"2020-11-06","v":37.14},{"d":"2020-11-09","v":40.29},{"d":"2020-11-10","v":41.36},{"d":"2020-11-11","v":41.45},{"d":"2020-11-12","v":41.12}
    ]
  },
  "layer": [
    {
      "data": {"name": "left"},
      "transform": [{"fold": ["HOBO", "ULSD", "Soybean Oil"], "as": ["series", "value"]}],
      "mark": {"type": "line", "strokeWidth": 4, "strokeJoin": "round"},
      "encoding": {
        "x": {
          "field": "d", "type": "temporal",
          "scale": {"type": "utc", "domain": [{"year": 2018, "month": 12, "date": 31, "utc": true}, {"year": 2020, "month": 11, "date": 13, "utc": true}]},
          "axis": {"title": null, "format": "%b-%y", "labelAngle": -90, "tickCount": {"interval": "month", "step": 1}, "grid": false, "domain": false, "ticks": false, "labelPadding": 10}
        },
        "y": {
          "field": "value", "type": "quantitative",
          "scale": {"domain": [-2, 3.5], "nice": false, "zero": false},
          "axis": {"orient": "left", "title": "($/gallon)", "values": [-2, -1.5, -1, -0.5, 0, 0.5, 1, 1.5, 2, 2.5, 3, 3.5], "labelExpr": "datum.value < 0 ? '($' + format(-datum.value, '.2f') + ')' : '$' + format(datum.value, '.2f')", "grid": true, "gridColor": "#d9d9d9", "gridWidth": 1, "domain": false, "ticks": false, "labelPadding": 22, "titlePadding": 10}
        },
        "color": {
          "field": "series", "type": "nominal",
          "scale": {"domain": ["HOBO", "ULSD", "Soybean Oil", "WTI"], "range": ["#808080", "#FFC000", "#00B050", "#000000"]},
          "legend": {"orient": "none", "legendX": 93, "legendY": 406, "direction": "horizontal", "title": null, "symbolType": "stroke", "symbolSize": 1936, "symbolStrokeWidth": 5, "labelFontSize": 16, "labelColor": "#595959", "labelFont": "Lato", "columnPadding": 8, "labelOffset": 3, "padding": 0}
        }
      }
    },
    {
      "data": {"name": "wti"},
      "mark": {"type": "line", "strokeWidth": 4, "clip": true, "strokeJoin": "round"},
      "encoding": {
        "x": {
          "field": "d", "type": "temporal",
          "scale": {"type": "utc", "domain": [{"year": 2018, "month": 12, "date": 31, "utc": true}, {"year": 2020, "month": 11, "date": 13, "utc": true}]},
          "axis": {"title": null, "format": "%b-%y", "labelAngle": -90, "tickCount": {"interval": "month", "step": 1}, "grid": false, "domain": false, "ticks": false, "labelPadding": 10}
        },
        "y": {
          "field": "v", "type": "quantitative",
          "scale": {"domain": [0, 70], "nice": false},
          "axis": {"orient": "right", "title": "(WTI $/barrel)", "values": [0, 10, 20, 30, 40, 50, 60, 70], "labelExpr": "'$' + datum.value", "grid": false, "domain": false, "ticks": false, "labelPadding": 17, "titlePadding": 14}
        },
        "color": {"datum": "WTI", "type": "nominal"}
      }
    }
  ],
  "resolve": {"scale": {"y": "independent"}}
}
